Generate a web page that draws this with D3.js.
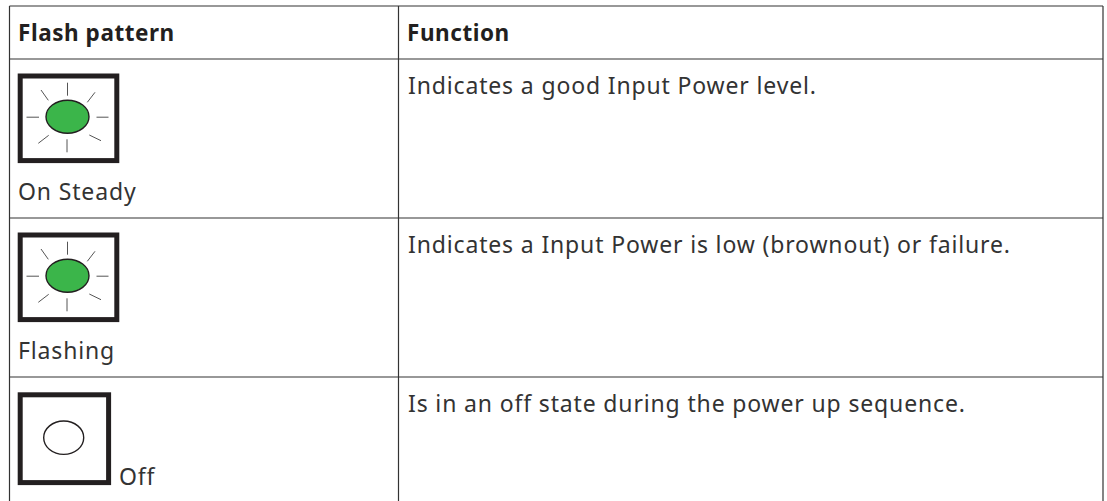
<!DOCTYPE html>
<html>
<head>
<meta charset="utf-8">
<script src="https://cdn.jsdelivr.net/npm/d3@7"></script>
<style>
	html, body { margin: 0; padding: 0; background: #fff; }
	text { font-family: "Noto Sans", sans-serif; fill: #231f20; }
	.head { font-weight: 700; font-size: 22.5px; letter-spacing: 0.55px; }
	.cell { font-size: 23px; letter-spacing: 0.85px; fill: #333; }
</style>
</head>
<body>
<div id="chart"></div>
<script>
const columns = ["Flash pattern", "Function"];
const patterns = ["On Steady", "Flashing", "Off"];
const functions = [
	"Indicates a good Input Power level.",
	"Indicates a Input Power is low (brownout) or failure.",
	"Is in an off state during the power up sequence.",
];
const lit = [true, true, false];

const w = 1107;
const h = 501;
const green = "#3bb54a";
const ink = "#231f20";

const svg = d3.select("#chart").append("svg").attr("width", w).attr("height", h).style("display", "block");

// table grid
const colX = d3.scaleOrdinal().domain(columns).range([9.5, 398.5]);
const rowEdges = [6, 59, 218, 377, 501];
const rightEdge = 1103;
const rowY = d3.scaleOrdinal().domain(patterns).range(rowEdges.slice(1, 4));

const grid = svg.append("g").attr("stroke", "#333").attr("stroke-width", 1.2);
rowEdges.slice(0, 4).forEach((y) => {
	grid.append("line").attr("x1", 9.5).attr("x2", rightEdge).attr("y1", y).attr("y2", y);
});
[9.5, 398.5, rightEdge].forEach((x) => {
	grid.append("line").attr("x1", x).attr("x2", x).attr("y1", rowEdges[0]).attr("y2", rowEdges[4]);
});

// header
svg.selectAll("text.head").data(columns).enter().append("text")
	.attr("class", "head")
	.attr("x", (d) => colX(d) + 8.5)
	.attr("y", 40.5)
	.text((d) => d);

// function column
svg.selectAll("text.fn").data(functions).enter().append("text")
	.attr("class", "cell fn")
	.attr("x", colX("Function") + 9.5)
	.attr("y", (d, i) => rowY(patterns[i]) + 34.5)
	.text((d) => d);

// LED icons
const rays = [
	[0, -34, 0, -21],
	[27.5, -24.4, 19.8, -14.4],
	[41, 0.5, 29, 0.5],
	[33.5, 24, 21.8, 18.3],
	[-0.5, 35.6, -0.5, 22.6],
	[-18.8, 18.6, -29.2, 26.6],
	[-28.5, 0.5, -41, 0.5],
	[-19.2, -16.4, -26.5, -26.7],
];

patterns.forEach((p, i) => {
	const top = rowY(p);
	if (lit[i]) {
		svg.append("rect").attr("x", 20.2).attr("y", top + 17).attr("width", 96.6).attr("height", 84.6)
			.attr("fill", "#fff").attr("stroke", ink).attr("stroke-width", 5);
		const g = svg.append("g").attr("transform", "translate(67.5," + (top + 57.7) + ")");
		g.selectAll("line").data(rays).enter().append("line")
			.attr("x1", (d) => d[0]).attr("y1", (d) => d[1])
			.attr("x2", (d) => d[2]).attr("y2", (d) => d[3])
			.attr("stroke", "#555").attr("stroke-width", 1);
		g.append("ellipse").attr("rx", 21.5).attr("ry", 16.5)
			.attr("fill", green).attr("stroke", ink).attr("stroke-width", 1.4);
		svg.append("text").attr("class", "cell").attr("x", 18).attr("y", top + 141).text(p);
	} else {
		svg.append("rect").attr("x", 20.2).attr("y", top + 17.8).attr("width", 88.4).attr("height", 87.8)
			.attr("fill", "#fff").attr("stroke", ink).attr("stroke-width", 5);
		svg.append("ellipse").attr("cx", 63.7).attr("cy", top + 60.7).attr("rx", 20).attr("ry", 16.7)
			.attr("fill", "#fff").attr("stroke", ink).attr("stroke-width", 1.4);
		svg.append("text").attr("class", "cell").attr("x", 119).attr("y", top + 108).text(p);
	}
});
</script>
</body>
</html>
